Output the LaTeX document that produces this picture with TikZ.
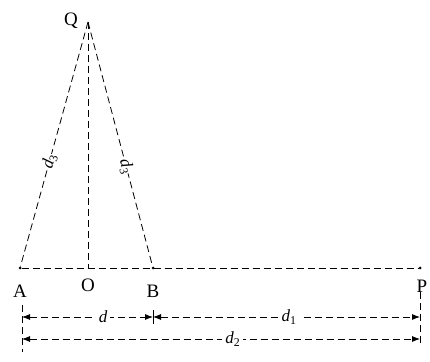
\documentclass[tikz,border=0pt]{standalone}
\usepackage{fontspec}
\setmainfont{Liberation Serif}
\usetikzlibrary{arrows.meta}
\newcommand{\dist}[1]{\textit{d}\textsubscript{#1}}
\begin{document}
\begin{tikzpicture}[x=1pt, y=1pt, >={Latex[length=8pt,width=6pt]},
    font=\fontsize{19}{22}\selectfont,
    dline/.style={dash pattern=on 7pt off 4pt, line width=0.8pt},
    dimline/.style={dline, <->},
    dimlab/.style={fill=white, inner sep=3pt, font=\fontsize{17}{20}\selectfont},
    pt/.style={circle, fill, inner sep=0pt, minimum size=3pt}]

    \useasboundingbox (0,0) rectangle (430,361);

    % Definice souřadnic
    \def\yAB{93}   % základní přímka
    \def\yOne{44}  % kóta d, d1
    \def\yTwo{22}  % kóta d2

    % 1. Body na přímce a bod Q
    \node[pt] (A) at (20,\yAB) {};
    \coordinate (O) at (88,\yAB);
    \node[pt] (B) at (153,\yAB) {};
    \node[pt] (P) at (420,\yAB) {};
    \coordinate (Q) at (88,339);

    % Popisky bodů
    \node (labA) at (20,70) {A};
    \node (labO) at (88,76) {O};
    \node (labB) at (153,70) {B};
    \node (labP) at (422,75) {P};
    \node (labQ) at (71,340) {Q};

    % 2. Čárkované spojnice
    \draw[dline] (A) -- (P);
    \draw[dline] (Q) -- (O);
    \draw[dline] (Q) -- node[dimlab, sloped, inner sep=0pt, pos=0.57] (dl) {\dist{3}} (A);
    \draw[dline] (Q) -- node[dimlab, sloped, inner sep=0pt, pos=0.59] (dr) {\dist{3}} (B);

    % 3. Kótovací čáry
    \coordinate (tl1) at (22,56);
    \coordinate (tl2) at (22,9);
    \coordinate (tr1) at (420,69);
    \coordinate (tr2) at (420,18);
    \coordinate (tm1) at (153,51);
    \coordinate (tm2) at (153,37);
    \draw[dline] (tl1) -- (tl2);
    \draw[dline] (tr1) -- (tr2);
    \draw[line width=0.6pt] (tm1) -- (tm2);

    \coordinate (kA) at (22,\yOne);
    \coordinate (kB) at (153,\yOne);
    \coordinate (kP) at (420,\yOne);
    \coordinate (mA) at (22,\yTwo);
    \coordinate (mP) at (420,\yTwo);

    \draw[dimline] (kA) -- node[dimlab, pos=0.62] (d) {\textit{d}} (kB);
    \draw[dimline] (kB) -- node[dimlab, pos=0.51] (d1) {\dist{1}} (kP);
    \draw[dimline] (mA) -- node[dimlab, pos=0.53] (d2) {\dist{2}} (mP);

\end{tikzpicture}
\end{document}
